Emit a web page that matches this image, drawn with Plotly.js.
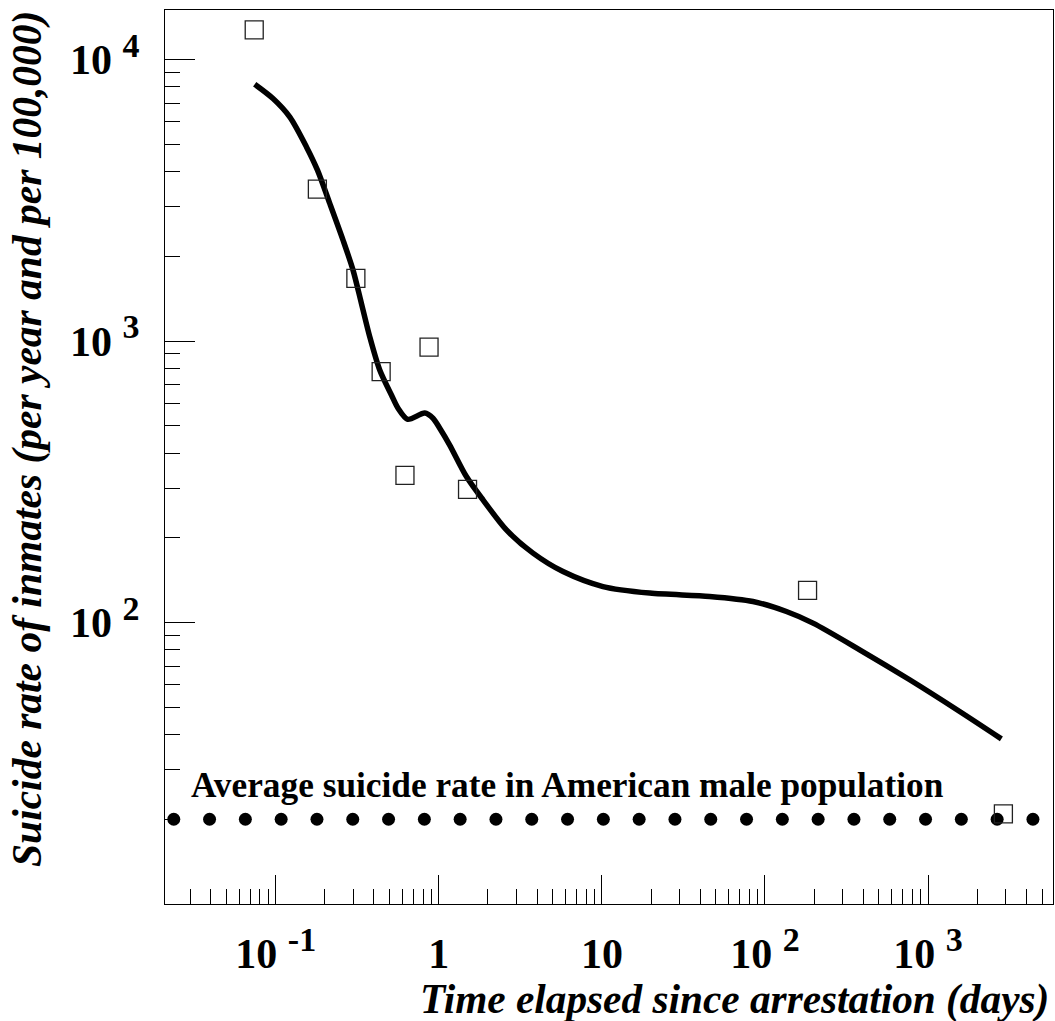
<!DOCTYPE html>
<html>
<head>
<meta charset="utf-8">
<script src="https://cdn.plot.ly/plotly-3.0.1.min.js"></script>
<style>html,body{margin:0;padding:0;background:#fff;}#chart{width:1055px;height:1021px;}</style>
</head>
<body>
<div id="chart"></div>
<script>
// Measured rates (open squares)
const measX = [0.0738, 0.180, 0.310, 0.443, 0.620, 0.871, 1.50, 182.4, 2896];
const measY = [12740, 3465, 1670, 778, 333, 951, 297, 130, 20.9];

// Fitted curve
const fitX = [0.0743, 0.0962, 0.1218, 0.1543, 0.1803, 0.2144, 0.2586, 0.2978, 0.3352, 0.3770,
              0.4342, 0.5122, 0.5622, 0.6446, 0.8195, 0.9213, 1.013, 1.166, 1.476, 1.866,
              2.597, 3.780, 5.774, 10.15, 19.64, 45.8, 84.4, 135.3, 197, 380.7, 771, 1562, 2815];
const fitY = [8171, 7271, 6256, 4894, 4046, 3083, 2283, 1786, 1361, 1036,
              789, 643, 577, 527, 555, 532, 490, 427, 330, 272.7,
              213.3, 176.4, 151.7, 134.2, 127.2, 123.7, 118.7, 109.4, 99.5, 80.0, 62.6, 48.3, 38.6];

// Average suicide rate in the American male population (reference level)
const avgRate = 20;
const avgFrom = 0.0237;   // first dot
const avgTo = 4395;       // last dot
const avgDots = 25;

// Tick labels
const supStyle = 'font-size:34px';
const xTickVals = [0.1, 1, 10, 100, 1000];
const xTickText = ['10 <sup><span style="' + supStyle + '">-1</span></sup>', '1', '10',
                   '10 <sup><span style="' + supStyle + '">2</span></sup>',
                   '10 <sup><span style="' + supStyle + '">3</span></sup>'];
const yTickVals = [100, 1000, 10000];
const yTickText = ['10 <sup><span style="' + supStyle + '">2</span></sup>',
                   '10 <sup><span style="' + supStyle + '">3</span></sup>',
                   '10 <sup><span style="' + supStyle + '">4</span></sup>'];

const avgX = [];
const avgY = [];
{
  const a = Math.log10(avgFrom), b = Math.log10(avgTo);
  for (let i = 0; i < avgDots; i++) {
    avgX.push(Math.pow(10, a + (b - a) * i / (avgDots - 1)));
    avgY.push(avgRate);
  }
}

const serif = 'Liberation Serif, Times New Roman, serif';

const traces = [
  {
    x: avgX, y: avgY, type: 'scatter', mode: 'markers',
    marker: {symbol: 'circle', size: 13, color: '#000'},
    hoverinfo: 'skip', showlegend: false
  },
  {
    x: fitX, y: fitY, type: 'scatter', mode: 'lines',
    line: {color: '#000', width: 5.5, shape: 'spline', smoothing: 0.8},
    showlegend: false
  },
  {
    x: measX, y: measY, type: 'scatter', mode: 'markers',
    marker: {symbol: 'square-open', size: 18, color: '#222', line: {width: 1.3, color: '#222'}},
    showlegend: false
  }
];

const tickFont = {family: serif, size: 42, color: '#000', weight: 'bold'};

const layout = {
  width: 1055, height: 1021,
  margin: {l: 165, r: 2, t: 10, b: 117, pad: 0},
  paper_bgcolor: '#fff', plot_bgcolor: '#fff',
  showlegend: false,
  xaxis: {
    type: 'log', range: [-1.679, 3.766],
    tickmode: 'array', tickvals: xTickVals, ticktext: xTickText,
    ticks: 'inside', ticklen: 29, tickwidth: 1, tickcolor: '#000',
    minor: {ticks: 'inside', ticklen: 15, tickwidth: 1, tickcolor: '#000', dtick: 'D1', showgrid: false},
    showline: true, linecolor: '#000', linewidth: 1, mirror: true,
    showgrid: false, zeroline: false,
    tickfont: tickFont, ticklabelstandoff: 13
  },
  yaxis: {
    type: 'log', range: [1.0, 4.176],
    tickmode: 'array', tickvals: yTickVals, ticktext: yTickText,
    ticks: 'inside', ticklen: 30, tickwidth: 1, tickcolor: '#000',
    minor: {ticks: 'inside', ticklen: 15, tickwidth: 1, tickcolor: '#000', dtick: 'D1', showgrid: false},
    showline: true, linecolor: '#000', linewidth: 1, mirror: true,
    showgrid: false, zeroline: false,
    tickfont: tickFont, ticklabelstandoff: 16
  },
  annotations: [
    {
      text: 'Average suicide rate in American male population',
      xref: 'paper', yref: 'paper', x: (189 - 165) / 888, y: (904 - 785) / 894,
      xanchor: 'left', yanchor: 'middle', showarrow: false,
      font: {family: serif, size: 35.3, color: '#000', weight: 'bold'}
    },
    {
      text: 'Time elapsed since arrestation (days)',
      xref: 'paper', yref: 'paper', x: (1051 - 165) / 888, y: (904 - 999) / 894,
      xanchor: 'right', yanchor: 'middle', showarrow: false,
      font: {family: serif, size: 41.3, color: '#000', weight: 'bold', style: 'italic'}
    },
    {
      text: 'Suicide rate of inmates (per year and per 100,000)',
      xref: 'paper', yref: 'paper', x: (27 - 165) / 888, y: (904 - 9) / 894,
      xanchor: 'center', yanchor: 'top', textangle: -90, showarrow: false,
      font: {family: serif, size: 41.5, color: '#000', weight: 'bold', style: 'italic'}
    }
  ]
};

Plotly.newPlot('chart', traces, layout, {staticPlot: true, displayModeBar: false});
</script>
</body>
</html>
